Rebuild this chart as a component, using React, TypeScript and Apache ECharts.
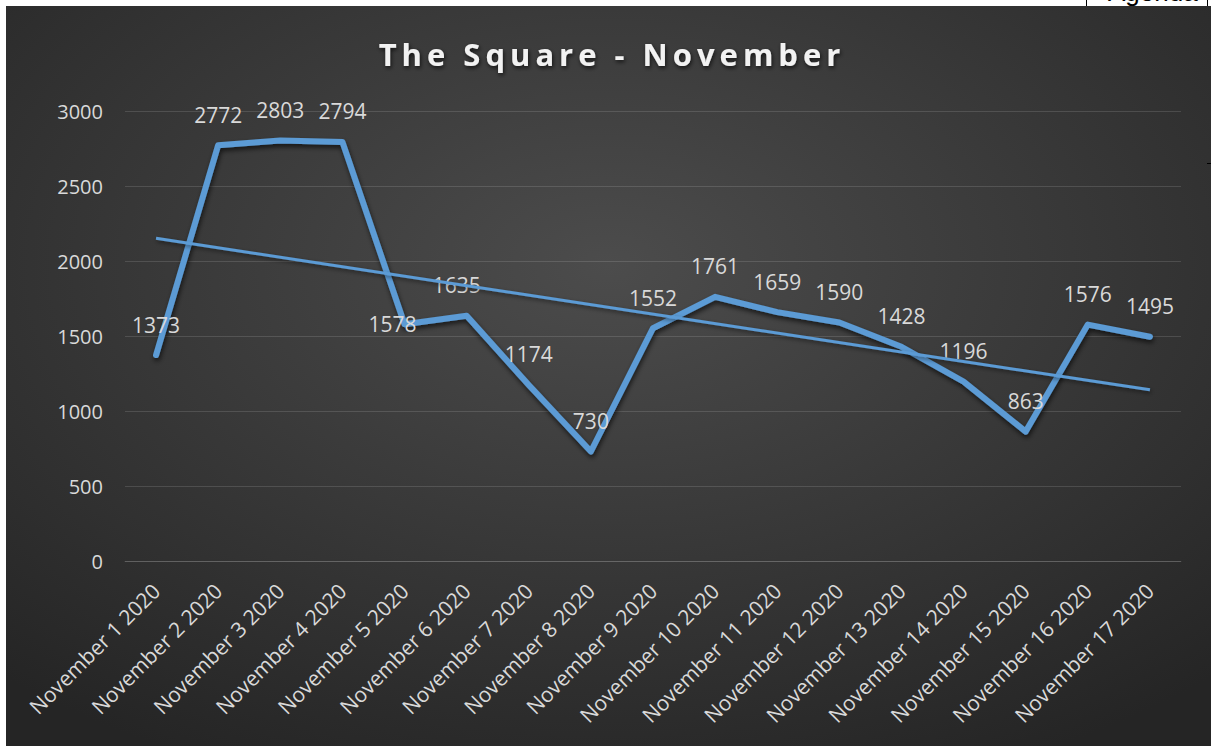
import React, { useEffect, useRef } from 'react';
import * as echarts from 'echarts';

const titleText = 'The Square - November';
const categories = [
  'November 1 2020', 'November 2 2020', 'November 3 2020', 'November 4 2020',
  'November 5 2020', 'November 6 2020', 'November 7 2020', 'November 8 2020',
  'November 9 2020', 'November 10 2020', 'November 11 2020', 'November 12 2020',
  'November 13 2020', 'November 14 2020', 'November 15 2020', 'November 16 2020',
  'November 17 2020',
];
const visitors = [1373, 2772, 2803, 2794, 1578, 1635, 1174, 730, 1552, 1761, 1659, 1590, 1428, 1196, 863, 1576, 1495];
// linear trendline values at the first and last day
const trendEnds = [2151, 1141];
const yMin = 0;
const yMax = 3000;
const yStep = 500;

const BLUE = '#5B9BD5';
const LABEL = '#d9d9d9';
const FONT = '"Open Sans", Calibri, sans-serif';

export default function App() {
  const ref = useRef<HTMLDivElement>(null);
  useEffect(() => {
    if (!ref.current) return;
    const chart = echarts.init(ref.current, null, { renderer: 'svg' });

    const labelOffsets: Record<number, number[]> = { 4: [-12, 30], 5: [-10, 0] };
    const mainData = visitors.map((v, i) =>
      labelOffsets[i] ? { value: v, label: { offset: labelOffsets[i] } } : v
    );
    const last = categories.length - 1;
    const trendData = categories.map((_, i) => (i === 0 ? trendEnds[0] : i === last ? trendEnds[1] : null));

    chart.setOption({
      animation: false,
      backgroundColor: '#ffffff',
      graphic: [
        {
          type: 'text', z: -20, x: 1108, y: 5,
          style: { text: 'Agenda', fill: '#000', font: '26px Arial, "Liberation Sans", sans-serif', textAlign: 'left', textVerticalAlign: 'bottom' },
        },
        { type: 'line', z: -20, shape: { x1: 1086.5, y1: 0, x2: 1086.5, y2: 6 }, style: { stroke: '#000', lineWidth: 1 } },
        { type: 'line', z: -20, shape: { x1: 1207.5, y1: 0, x2: 1207.5, y2: 6 }, style: { stroke: '#000', lineWidth: 1 } },
        {
          type: 'rect', z: -10,
          shape: { x: 6, y: 6, width: 1205, height: 740 },
          style: {
            fill: new echarts.graphic.RadialGradient(0.5, 0.35, 0.75, [
              { offset: 0, color: '#4c4c4c' },
              { offset: 1, color: '#252525' },
            ]),
          },
        },
        { type: 'line', z: 5, shape: { x1: 1207, y1: 163.5, x2: 1211, y2: 163.5 }, style: { stroke: '#000', lineWidth: 1 } },
      ],
      title: {
        text: titleText,
        left: 607,
        top: 33,
        textAlign: 'center',
        textStyle: {
          color: '#f2f2f2',
          fontFamily: FONT,
          fontWeight: 'bold',
          fontSize: 31,
          textShadowColor: 'rgba(0,0,0,0.7)',
          textShadowBlur: 4,
          textShadowOffsetX: 1,
          textShadowOffsetY: 2,
        },
      },
      grid: { left: 125, right: 30, top: 111, bottom: 185, containLabel: false },
      xAxis: {
        type: 'category',
        data: categories,
        boundaryGap: true,
        axisLine: { show: true, lineStyle: { color: 'rgba(255,255,255,0.13)', width: 1 } },
        axisTick: { show: false },
        axisLabel: {
          interval: 0,
          rotate: 45,
          margin: 26,
          color: LABEL,
          fontFamily: FONT,
          fontSize: 21,
        },
      },
      yAxis: {
        type: 'value',
        min: yMin,
        max: yMax,
        interval: yStep,
        axisLine: { show: false },
        axisTick: { show: false },
        splitLine: { show: true, lineStyle: { color: 'rgba(255,255,255,0.13)', width: 1 } },
        axisLabel: {
          margin: 22, color: LABEL, fontFamily: FONT, fontSize: 20,
          formatter: (v: number) => String(v),
        },
      },
      series: [
        {
          type: 'line',
          data: mainData,
          symbol: 'circle',
          symbolSize: 2,
          showSymbol: true,
          itemStyle: { color: 'rgba(0,0,0,0)', borderWidth: 0 },
          z: 2,
          lineStyle: {
            color: BLUE, width: 6, cap: 'round', join: 'round',
            shadowColor: 'rgba(0,0,0,0.65)', shadowBlur: 5, shadowOffsetX: 1, shadowOffsetY: 3,
          },
          label: {
            show: true,
            position: 'top',
            distance: 19,
            color: LABEL,
            fontFamily: FONT,
            fontSize: 21,
            formatter: (p: any) => String(p.value),
          },
        },
        {
          type: 'line',
          data: trendData,
          connectNulls: true,
          symbol: 'none',
          z: 3,
          lineStyle: {
            color: BLUE, width: 3,
            shadowColor: 'rgba(0,0,0,0.5)', shadowBlur: 4, shadowOffsetX: 1, shadowOffsetY: 2,
          },
          label: { show: false },
        },
      ],
    });

    const spaceTitle = () => {
      const svg = ref.current?.querySelector('svg');
      if (!svg) return;
      svg.querySelectorAll('text').forEach((t) => {
        if (t.textContent === titleText) t.setAttribute('letter-spacing', '5px');
      });
    };
    spaceTitle();
    chart.on('finished', spaceTitle);
    const timer = setTimeout(spaceTitle, 50);

    return () => {
      clearTimeout(timer);
      chart.dispose();
    };
  }, []);

  return (
    <div
      ref={ref}
      style={{ position: 'fixed', left: 0, top: 0, width: 1211, height: 746 }}
    />
  );
}
